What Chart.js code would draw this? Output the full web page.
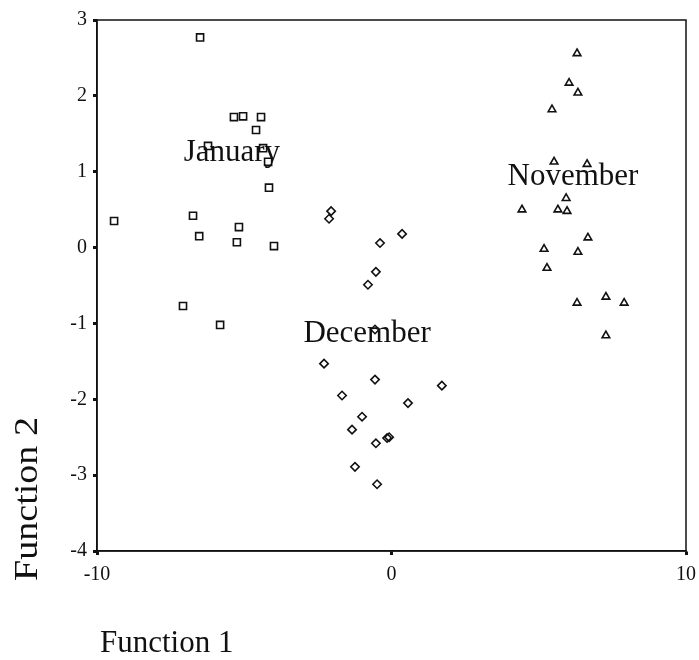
<!DOCTYPE html>
<html>
<head>
<meta charset="utf-8">
<script src="https://cdn.jsdelivr.net/npm/chart.js@4.4.1/dist/chart.umd.min.js"></script>
<style>
  html, body { margin: 0; padding: 0; background: #fff; }
  #wrap { width: 699px; height: 660px; }
</style>
</head>
<body>
<div id="wrap"><canvas id="chart" width="699" height="660"></canvas></div>
<script>
// discriminant scores
const januaryX = [-9.42, -6.5, -5.35, -5.04, -4.43, -4.6, -6.23, -4.36, -4.19, -4.16, -6.74, -5.18, -6.53, -5.25, -3.99, -7.08, -5.82];
const januaryY = [0.35, 2.77, 1.72, 1.73, 1.72, 1.55, 1.34, 1.31, 1.13, 0.79, 0.42, 0.27, 0.15, 0.07, 0.02, -0.77, -1.02];

const decemberX = [-2.05, -2.12, 0.36, -0.39, -0.53, -0.8, -0.56, -2.29, -0.56, 1.71, -1.68, 0.56, -1.0, -1.34, -0.53, -0.15, -0.08, -1.24, -0.49];
const decemberY = [0.48, 0.38, 0.18, 0.06, -0.32, -0.49, -1.08, -1.53, -1.74, -1.82, -1.95, -2.05, -2.23, -2.40, -2.58, -2.51, -2.50, -2.89, -3.12];

const novemberX = [6.3, 6.03, 6.33, 5.45, 5.52, 6.64, 5.93, 4.43, 5.65, 5.96, 6.67, 5.18, 6.33, 5.28, 6.3, 7.28, 7.9, 7.28];
const novemberY = [2.56, 2.17, 2.04, 1.82, 1.13, 1.10, 0.65, 0.50, 0.50, 0.48, 0.13, -0.02, -0.06, -0.27, -0.73, -0.65, -0.73, -1.16];

// group centroid labels
const groupNames = ['January', 'December', 'November'];
const centroidX = [-5.42, -0.83, 6.16];
const centroidY = [1.25, -1.14, 0.93];

const xTicks = [-10, 0, 10];
const yTicks = [-4, -3, -2, -1, 0, 1, 2, 3];

const serif = '"Liberation Serif", "DejaVu Serif", serif';

function toPoints(xs, ys) {
  return xs.map((x, i) => ({ x: x, y: ys[i] }));
}

function group(label, xs, ys, style, radius) {
  return {
    label: label,
    data: toPoints(xs, ys),
    pointStyle: style,
    pointRadius: radius,
    pointHoverRadius: radius,
    pointBorderWidth: 1.6,
    borderColor: '#111',
    backgroundColor: 'rgba(255,255,255,0)'
  };
}

// frame, centroid names and axis titles
const decorations = {
  id: 'decorations',
  afterDatasetsDraw(chart) {
    const { ctx, chartArea, scales } = chart;
    ctx.save();
    ctx.strokeStyle = '#111';
    ctx.lineWidth = 1.5;
    ctx.strokeRect(chartArea.left, chartArea.top, chartArea.right - chartArea.left, chartArea.bottom - chartArea.top);

    ctx.fillStyle = '#111';
    ctx.font = '31px ' + serif;
    ctx.textAlign = 'center';
    ctx.textBaseline = 'middle';
    groupNames.forEach((name, i) => {
      ctx.fillText(name, scales.x.getPixelForValue(centroidX[i]), scales.y.getPixelForValue(centroidY[i]));
    });

    ctx.font = '31px ' + serif;
    ctx.textAlign = 'left';
    ctx.textBaseline = 'alphabetic';
    ctx.fillText('Function 1', 100, 652);

    ctx.translate(37, 581);
    ctx.rotate(-Math.PI / 2);
    ctx.scale(1.12, 1);
    ctx.font = '34px ' + serif;
    ctx.fillText('Function 2', 0, 0);
    ctx.restore();
  }
};

new Chart(document.getElementById('chart'), {
  type: 'scatter',
  data: {
    datasets: [
      group('January', januaryX, januaryY, 'rect', 5),
      group('December', decemberX, decemberY, 'rectRot', 4.2),
      group('November', novemberX, novemberY, 'triangle', 4.4)
    ]
  },
  plugins: [decorations],
  options: {
    responsive: false,
    animation: false,
    layout: { padding: { top: 20, right: 13, left: 0, bottom: 0 } },
    plugins: {
      legend: { display: false },
      tooltip: { enabled: false }
    },
    scales: {
      x: {
        type: 'linear',
        min: -10,
        max: 10,
        afterBuildTicks: (scale) => { scale.ticks = xTicks.map(v => ({ value: v })); },
        afterFit: (scale) => { scale.height = 109; scale.paddingRight = 0; },
        grid: { drawOnChartArea: false, tickLength: 4, tickWidth: 3, color: '#111' },
        border: { display: true, color: '#111', width: 1.5 },
        ticks: { color: '#111', font: { family: serif, size: 20 }, padding: 8, maxRotation: 0 }
      },
      y: {
        type: 'linear',
        min: -4,
        max: 3,
        afterBuildTicks: (scale) => { scale.ticks = yTicks.map(v => ({ value: v })); },
        afterFit: (scale) => { scale.width = 97; },
        grid: { drawOnChartArea: false, tickLength: 4, tickWidth: 3, color: '#111' },
        border: { display: true, color: '#111', width: 1.5 },
        ticks: { color: '#111', font: { family: serif, size: 20 }, padding: 6 }
      }
    }
  }
});
</script>
</body>
</html>
